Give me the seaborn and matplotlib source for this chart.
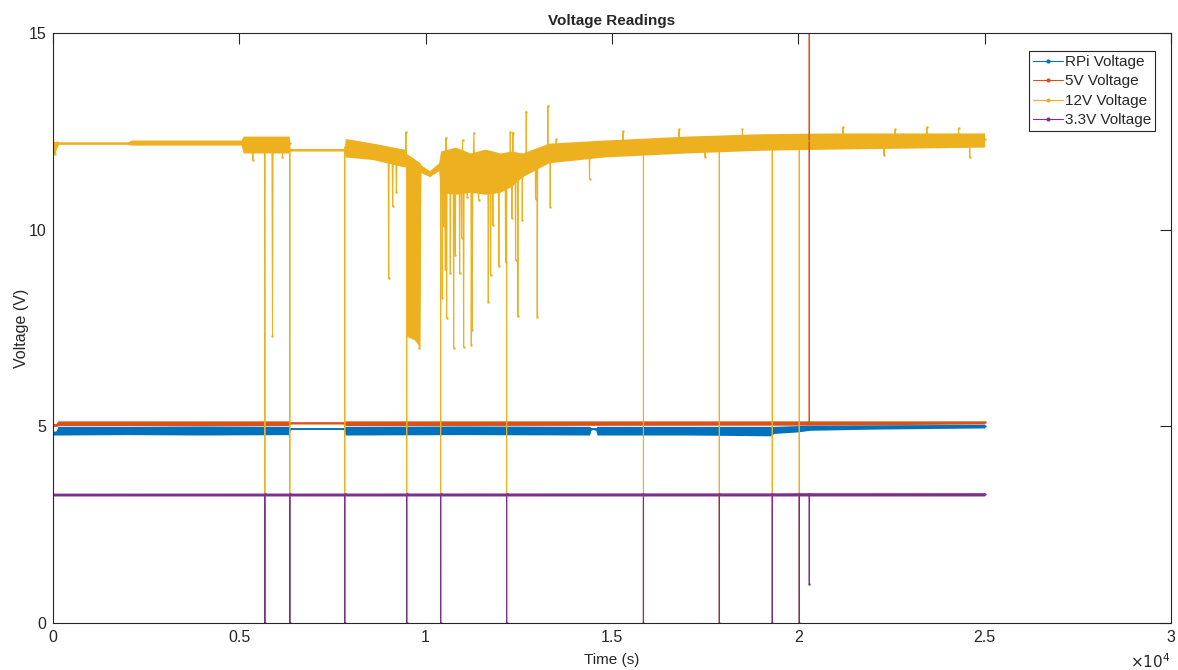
import numpy as np
import pandas as pd
import seaborn as sns
import matplotlib.pyplot as plt
from matplotlib.lines import Line2D

# Values (time in s, voltage in V)
series_names = ['RPi Voltage', '5V Voltage', '12V Voltage', '3.3V Voltage']
series_colors = ['#0072BD', '#D95319', '#EDB120', '#7E2F8E']

rpi_trace = [(0, 4.82), (90, 4.84), (130, 4.90), (600, 4.88), (1500, 4.9), (2500, 4.89),
             (3500, 4.9), (4500, 4.88), (6340, 4.9), (6370, 4.94), (7810, 4.94), (7840, 4.9),
             (9000, 4.89), (11000, 4.9), (14450, 4.94), (14550, 4.94), (17000, 4.89),
             (19300, 4.88), (20300, 4.96), (22000, 4.99), (25000, 5.0)]

v5_trace = [(0, 5.03), (100, 5.04), (130, 5.08), (3000, 5.09), (6340, 5.08), (6370, 5.09),
            (7810, 5.09), (7840, 5.08), (14000, 5.08), (20294, 5.09), (20295, 16.0),
            (20296, 5.09), (25000, 5.1)]

v12_trace = [(0, 11.95), (30, 12.2), (60, 11.92), (100, 12.22), (140, 12.2), (2000, 12.2),
             (3000, 12.22), (4000, 12.22), (5100, 12.23), (5200, 12.15), (5350, 12.15),
             (5362, 11.77), (5375, 12.15), (5500, 12.2), (5683, 12.15), (5684, 0), (5685, 12.15),
             (5875, 12.2), (5890, 7.3), (5905, 12.2), (6145, 12.15), (6158, 11.86), (6170, 12.2),
             (6353, 12.2), (6354, 0), (6355, 12.03), (7827, 12.03), (7828, 0), (7829, 12.1),
             (8300, 12.05), (8800, 11.95), (8995, 11.9), (9008, 8.77), (9020, 11.9),
             (9100, 11.9), (9115, 10.6), (9130, 11.88), (9200, 11.88), (9214, 10.97),
             (9230, 11.85), (9400, 11.82), (9460, 11.8), (9470, 12.48), (9480, 11.8),
             (9490, 11.8), (9491, 0), (9492, 11.7), (9530, 7.4), (9580, 11.6), (9630, 7.3),
             (9680, 11.5), (9730, 7.2), (9780, 11.4), (9830, 7.0), (9870, 11.55),
             (10000, 11.5), (10107, 11.39), (10250, 11.55), (10401, 11.6), (10402, 0),
             (10403, 11.5),
             (10438, 11.45), (10448, 8.26), (10458, 11.45), (10475, 11.45), (10483, 10.1),
             (10492, 11.45), (10518, 11.45), (10528, 9.0), (10536, 11.5), (10545, 12.34),
             (10553, 11.45), (10563, 7.75), (10575, 11.45), (10650, 11.45), (10662, 8.9),
             (10674, 11.45), (10740, 11.45), (10751, 7.0), (10763, 11.45), (10786, 11.45),
             (10796, 9.36), (10806, 11.45), (10900, 11.45), (10912, 8.9), (10924, 11.45),
             (10955, 11.45), (10965, 9.8), (10975, 11.45), (10990, 12.28), (11005, 11.45),
             (11019, 7.02), (11032, 11.45), (11108, 11.45), (11118, 10.83), (11128, 11.45),
             (11215, 11.45), (11225, 7.07), (11238, 11.45), (11252, 7.45), (11265, 11.45),
             (11295, 12.46), (11310, 11.45), (11410, 11.45), (11421, 10.75), (11432, 11.45),
             (11670, 11.45), (11681, 8.16), (11692, 11.45), (11732, 11.45), (11743, 8.85),
             (11754, 11.45), (11794, 11.45), (11804, 10.12), (11815, 11.45), (11955, 11.45),
             (11965, 9.08), (11975, 11.45), (12135, 11.45), (12145, 9.18), (12158, 11.45),
             (12171, 11.5), (12172, 0), (12173, 11.5), (12260, 11.5), (12271, 12.49),
             (12282, 11.5), (12303, 11.5), (12314, 10.3), (12327, 11.5), (12341, 12.47),
             (12352, 11.5), (12403, 11.55), (12413, 9.23), (12423, 11.55), (12465, 11.55),
             (12475, 7.8), (12485, 11.55), (12583, 11.6), (12593, 10.25), (12603, 11.6),
             (12690, 11.65), (12700, 13.0), (12710, 11.65), (12939, 11.75), (12949, 10.78),
             (12960, 11.75), (12985, 11.75), (12995, 7.78), (13005, 11.75), (13269, 11.9),
             (13279, 13.15), (13290, 11.9), (13333, 11.9), (13343, 10.58), (13353, 11.9),
             (13494, 11.95), (13504, 12.3), (13514, 11.95), (14387, 12.0), (14397, 11.29),
             (14407, 12.0), (15290, 12.05), (15300, 12.5), (15310, 12.05), (15844, 12.1),
             (15845, 0), (15846, 12.1), (16790, 12.15), (16800, 12.55), (16810, 12.15),
             (17490, 12.2), (17500, 11.85), (17510, 12.2), (17881, 12.2), (17882, 0),
             (17883, 12.2), (18490, 12.22), (18500, 12.55), (18510, 12.22), (19302, 12.25),
             (19303, 0), (19304, 12.25), (20026, 12.25), (20027, 0), (20028, 12.25),
             (21190, 12.27), (21200, 12.6), (21210, 12.27), (22290, 12.28), (22300, 11.9),
             (22310, 12.28), (22590, 12.28), (22600, 12.55), (22610, 12.28), (23440, 12.3),
             (23450, 12.6), (23460, 12.3), (24290, 12.3), (24300, 12.58), (24310, 12.3),
             (24590, 12.3), (24600, 11.85), (24610, 12.3), (25000, 12.3)]

v33_trace = [(0, 3.27), (5683, 3.27), (5684, 0), (5685, 3.27), (6353, 3.27), (6354, 0),
             (6355, 3.27), (7827, 3.27), (7828, 0), (7829, 3.27), (9490, 3.27), (9491, 0),
             (9492, 3.27), (10401, 3.27), (10402, 0), (10403, 3.27), (12171, 3.27), (12172, 0),
             (12173, 3.27), (15844, 3.27), (15845, 0), (15846, 3.27), (17881, 3.27), (17882, 0),
             (17883, 3.27), (19302, 3.27), (19303, 0), (19304, 3.27), (20026, 3.28), (20027, 0),
             (20028, 3.28), (20294, 3.28), (20295, 1.0), (20296, 3.28), (25000, 3.28)]

# Noise band of each reading (time, low, high)
rpi_band = [(0, 4.78, 4.88), (100, 4.78, 4.88), (130, 4.78, 5.0), (2000, 4.79, 5.0),
            (4000, 4.78, 5.01), (6340, 4.79, 5.0), (6360, 4.92, 4.96), (7820, 4.92, 4.96),
            (7840, 4.78, 5.0), (11000, 4.79, 5.01), (14400, 4.78, 5.0), (14440, 4.92, 4.96),
            (14560, 4.92, 4.96), (14600, 4.78, 5.0), (17000, 4.78, 5.0), (19250, 4.76, 5.0),
            (19350, 4.82, 5.0), (20000, 4.86, 5.02), (20300, 4.9, 5.03), (22000, 4.93, 5.04),
            (25000, 4.96, 5.05)]
v5_band = [(0, 5.0, 5.07), (100, 5.0, 5.07), (130, 5.02, 5.14), (6340, 5.02, 5.14),
           (6360, 5.06, 5.11), (7820, 5.06, 5.11), (7840, 5.02, 5.14), (20000, 5.03, 5.14),
           (25000, 5.06, 5.14)]
v12_band = [(0, 11.9, 12.25), (150, 12.17, 12.23), (2000, 12.17, 12.23), (2100, 12.15, 12.28),
            (5050, 12.15, 12.28), (5100, 11.95, 12.38), (6340, 11.95, 12.38),
            (6360, 12.0, 12.06), (7820, 12.0, 12.06), (7840, 11.85, 12.32),
            (8600, 11.78, 12.2), (9400, 11.6, 12.05), (9460, 11.6, 12.05), (9470, 7.3, 11.95),
            (9700, 7.2, 11.8), (9850, 7.0, 11.7), (9870, 11.45, 11.65), (10100, 11.35, 11.5),
            (10350, 11.5, 11.7), (10400, 10.95, 12.0), (10800, 10.9, 12.1),
            (11200, 10.95, 11.95), (11600, 10.9, 12.05), (12000, 10.95, 11.95),
            (12300, 11.1, 12.0), (12600, 11.35, 11.95), (13300, 11.7, 12.2),
            (14800, 11.85, 12.28), (17000, 11.95, 12.38), (19000, 12.02, 12.44),
            (21000, 12.05, 12.46), (25000, 12.1, 12.46)]
v33_band = [(0, 3.23, 3.30), (25000, 3.23, 3.31)]

x_ticks = [0, 5000, 10000, 15000, 20000, 25000, 30000]
x_tick_labels = ['0', '0.5', '1', '1.5', '2', '2.5', '3']
y_ticks = [0, 5, 10, 15]

traces = [rpi_trace, v5_trace, v12_trace, v33_trace]
bands = [rpi_band, v5_band, v12_band, v33_band]

frames = []
for name, tr in zip(series_names, traces):
    d = pd.DataFrame(tr, columns=['t', 'v'])
    d['series'] = name
    frames.append(d)
df = pd.concat(frames, ignore_index=True)

sns.set_theme(style='white')
plt.rcParams['font.family'] = ['Liberation Sans', 'DejaVu Sans']
plt.rcParams['axes.edgecolor'] = '#262626'

fig = plt.figure(figsize=(11.78, 6.70), dpi=100)
ax = fig.add_axes([0.045, 0.0701, 0.949, 0.8806])

# noise bands first, then the traces on top
for i, (b, c) in enumerate(zip(bands, series_colors)):
    bd = pd.DataFrame(b, columns=['t', 'lo', 'hi'])
    ax.fill_between(bd['t'], bd['lo'], bd['hi'], color=c, linewidth=0, zorder=1.5 + i * 0.01)

sns.lineplot(data=df, x='t', y='v', hue='series', hue_order=series_names,
             palette=series_colors, estimator=None, sort=False, marker='.',
             markersize=3.5, markeredgewidth=0, linewidth=0.8, legend=False, ax=ax, zorder=2)

ax.set_xlim(0, 30000)
ax.set_ylim(0, 15)
ax.set_xticks(x_ticks)
ax.set_xticklabels(x_tick_labels)
ax.set_yticks(y_ticks)
ax.tick_params(direction='in', length=8, width=0.8, top=True, right=True,
               labelsize=11.5, colors='#262626', pad=5)
for s in ax.spines.values():
    s.set_linewidth(0.8)

ax.set_title('Voltage Readings', fontsize=11, fontweight='bold', pad=6)
ax.set_xlabel('Time (s)', fontsize=11, color='#262626', labelpad=6)
ax.set_ylabel('Voltage (V)', fontsize=11.5, color='#262626', labelpad=-0.5)
fig.text(1150 / 1178, 1 - 662 / 670, r'$\times10^{4}$', fontsize=11, color='#262626',
         ha='center', va='center')

handles = [Line2D([0], [0], color=c, lw=0.8, marker='.', markersize=4) for c in series_colors]
leg = ax.legend(handles, series_names, loc='upper right', bbox_to_anchor=(0.9857, 0.9695),
                borderaxespad=0, fontsize=11, frameon=True, fancybox=False,
                framealpha=1, edgecolor='#262626', handlelength=2.0, handletextpad=0.1,
                labelspacing=0.36, borderpad=0.25, handleheight=0.6)
leg.get_frame().set_linewidth(0.8)

fig.savefig('out.png', dpi=100)
